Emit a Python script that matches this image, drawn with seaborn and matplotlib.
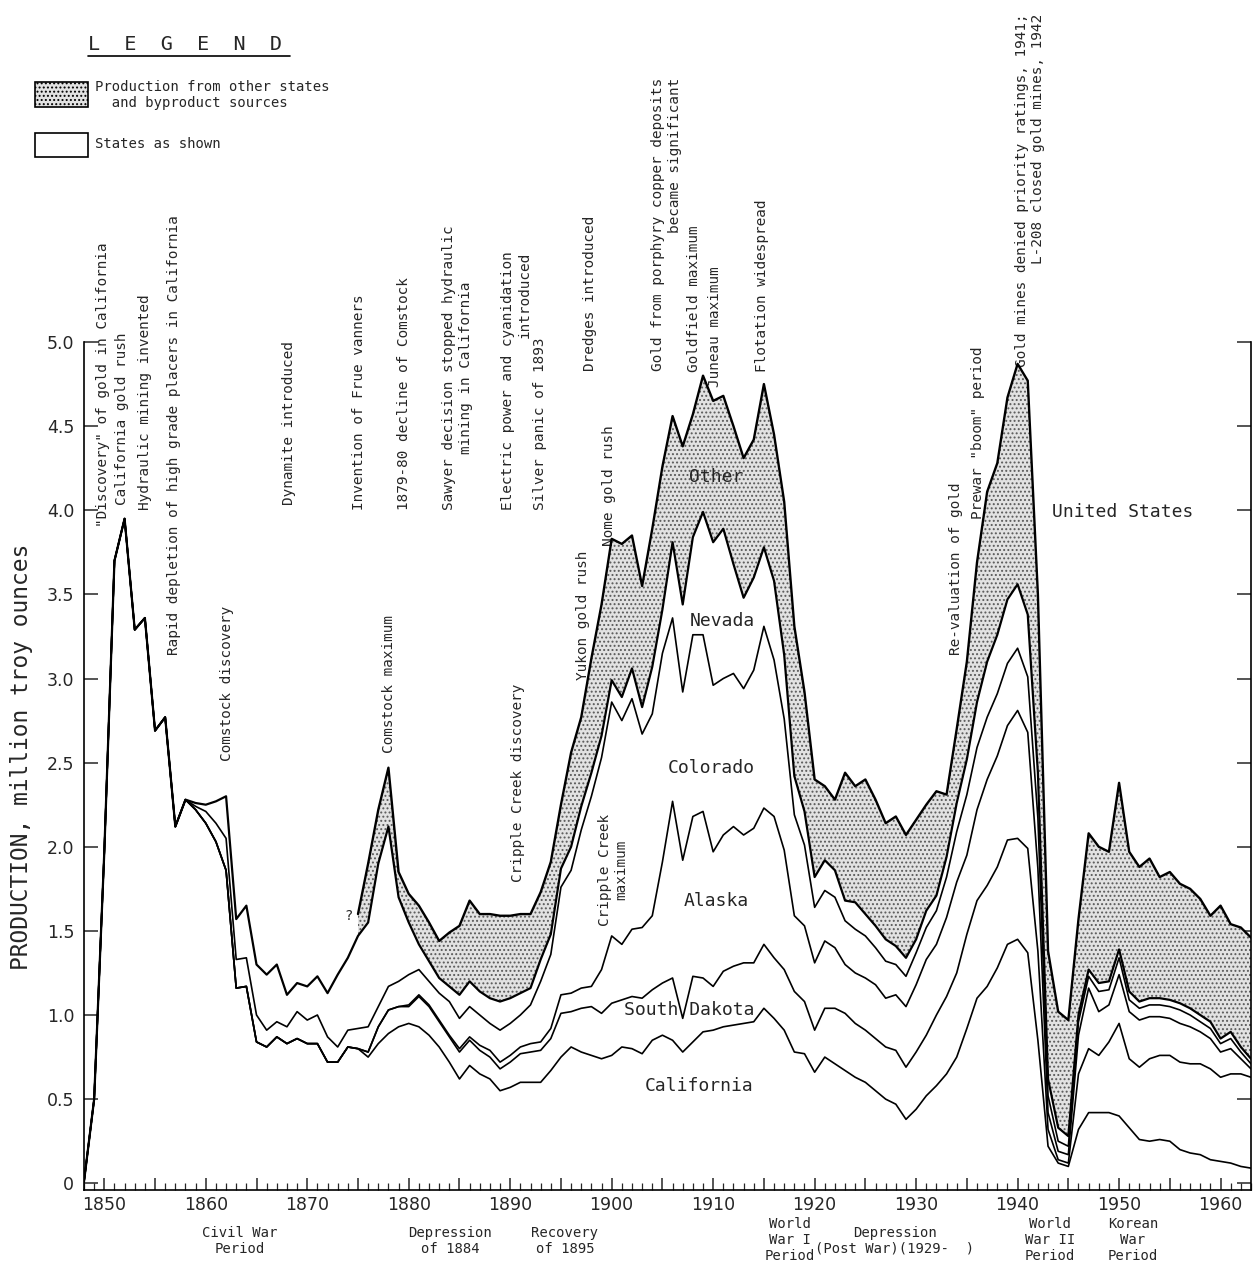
import numpy as np
import pandas as pd
import matplotlib
matplotlib.use('Agg')
import matplotlib.pyplot as plt
import seaborn as sns
from matplotlib.patches import Rectangle
from matplotlib.lines import Line2D
from matplotlib.ticker import MultipleLocator, FuncFormatter

# ------------------------------------------------------------
# Gold production, million troy ounces, 1848-1963
# ------------------------------------------------------------
years = np.arange(1848, 1964)

california = [
    0.01, 0.50,
    1.97, 3.70, 3.95, 3.29, 3.36, 2.69, 2.77, 2.12, 2.28, 2.22,
    2.14, 2.03, 1.86, 1.16, 1.17, 0.84, 0.81, 0.87, 0.83, 0.86,
    0.83, 0.83, 0.72, 0.72, 0.81, 0.80, 0.75, 0.83, 0.89, 0.93,
    0.95, 0.93, 0.88, 0.81, 0.72, 0.62, 0.70, 0.65, 0.62, 0.55,
    0.57, 0.60, 0.60, 0.60, 0.67, 0.75, 0.81, 0.78, 0.76, 0.74,
    0.76, 0.81, 0.80, 0.77, 0.85, 0.88, 0.85, 0.78, 0.84, 0.90,
    0.91, 0.93, 0.94, 0.95, 0.96, 1.04, 0.98, 0.91, 0.78, 0.77,
    0.66, 0.75, 0.71, 0.67, 0.63, 0.60, 0.55, 0.50, 0.47, 0.38,
    0.44, 0.52, 0.58, 0.65, 0.75, 0.92, 1.10, 1.17, 1.28, 1.42,
    1.45, 1.37, 0.85, 0.22, 0.12, 0.10, 0.32, 0.42, 0.42, 0.42,
    0.40, 0.33, 0.26, 0.25, 0.26, 0.25, 0.20, 0.18, 0.17, 0.14,
    0.13, 0.12, 0.10, 0.09,
]

south_dakota = [0.0] * 28 + [
    0.03, 0.10, 0.14, 0.12,
    0.10, 0.18, 0.17, 0.15, 0.15, 0.16, 0.15, 0.14, 0.13, 0.13,
    0.15, 0.17, 0.18, 0.19, 0.19, 0.26, 0.21, 0.26, 0.29, 0.27,
    0.31, 0.28, 0.31, 0.33, 0.30, 0.31, 0.37, 0.20, 0.39, 0.32,
    0.26, 0.33, 0.35, 0.36, 0.35, 0.38, 0.36, 0.36, 0.36, 0.31,
    0.25, 0.29, 0.33, 0.34, 0.32, 0.31, 0.31, 0.31, 0.32, 0.31,
    0.34, 0.36, 0.42, 0.46, 0.50, 0.56, 0.58, 0.60, 0.60, 0.62,
    0.60, 0.62, 0.53, 0.10, 0.02, 0.02, 0.33, 0.38, 0.34, 0.42,
    0.55, 0.41, 0.43, 0.49, 0.50, 0.51, 0.52, 0.53, 0.54, 0.54,
    0.50, 0.53, 0.55, 0.54,
]

alaska = [0.0] * 32 + [
    0.01, 0.01, 0.01, 0.01, 0.01, 0.02, 0.02, 0.03, 0.04, 0.04,
    0.04, 0.04, 0.05, 0.05, 0.06, 0.11, 0.11, 0.12, 0.12, 0.26,
    0.40, 0.33, 0.40, 0.42, 0.44, 0.72, 1.05, 0.94, 0.95, 0.99,
    0.80, 0.81, 0.83, 0.76, 0.80, 0.81, 0.84, 0.71, 0.45, 0.45,
    0.40, 0.40, 0.36, 0.29, 0.30, 0.31, 0.32, 0.29, 0.33, 0.36,
    0.40, 0.45, 0.42, 0.47, 0.54, 0.47, 0.54, 0.63, 0.66, 0.68,
    0.76, 0.69, 0.49, 0.10, 0.05, 0.05, 0.23, 0.36, 0.26, 0.22,
    0.29, 0.28, 0.28, 0.25, 0.23, 0.22, 0.23, 0.22, 0.19, 0.18,
    0.15, 0.15, 0.09, 0.05,
]

colorado = [0.0] * 11 + [
    0.02,
    0.07, 0.11, 0.19, 0.17, 0.17, 0.16, 0.10, 0.09, 0.10, 0.16,
    0.14, 0.17, 0.15, 0.09, 0.10, 0.12, 0.15, 0.12, 0.14, 0.15,
    0.18, 0.15, 0.14, 0.16, 0.20, 0.18, 0.18, 0.18, 0.16, 0.19,
    0.19, 0.19, 0.23, 0.36, 0.44, 0.64, 0.73, 0.94, 1.13, 1.26,
    1.39, 1.33, 1.37, 1.15, 1.20, 1.24, 1.09, 1.00, 1.08, 1.05,
    0.99, 0.93, 0.91, 0.87, 0.94, 1.08, 0.93, 0.78, 0.60, 0.48,
    0.33, 0.30, 0.30, 0.26, 0.26, 0.25, 0.22, 0.22, 0.18, 0.18,
    0.19, 0.19, 0.20, 0.24, 0.30, 0.36, 0.37, 0.37, 0.37, 0.37,
    0.37, 0.33, 0.30, 0.10, 0.06, 0.05, 0.08, 0.07, 0.12, 0.09,
    0.10, 0.07, 0.07, 0.07, 0.07, 0.07, 0.08, 0.07, 0.06, 0.06,
    0.05, 0.06, 0.04, 0.03,
]

nevada = [0.0] * 11 + [
    0.02,
    0.04, 0.13, 0.25, 0.24, 0.31, 0.30, 0.33, 0.34, 0.19, 0.17,
    0.20, 0.23, 0.26, 0.43, 0.43, 0.55, 0.62, 0.85, 0.95, 0.50,
    0.31, 0.15, 0.12, 0.09, 0.09, 0.14, 0.15, 0.14, 0.15, 0.17,
    0.15, 0.13, 0.10, 0.13, 0.12, 0.11, 0.14, 0.14, 0.14, 0.13,
    0.13, 0.14, 0.18, 0.16, 0.28, 0.26, 0.45, 0.52, 0.58, 0.73,
    0.85, 0.89, 0.65, 0.54, 0.55, 0.47, 0.47, 0.38, 0.23, 0.20,
    0.18, 0.18, 0.16, 0.12, 0.16, 0.13, 0.13, 0.13, 0.11, 0.11,
    0.08, 0.10, 0.09, 0.12, 0.17, 0.21, 0.27, 0.33, 0.35, 0.38,
    0.38, 0.37, 0.27, 0.10, 0.08, 0.06, 0.04, 0.04, 0.05, 0.05,
    0.05, 0.05, 0.04, 0.04, 0.04, 0.04, 0.04, 0.04, 0.04, 0.04,
    0.03, 0.04, 0.03, 0.03,
]

# total incl. other states and byproduct gold, known from 1875 on
united_states = [np.nan] * 27 + [
    1.60, 1.90, 2.22, 2.47, 1.85,
    1.72, 1.65, 1.55, 1.44, 1.49, 1.53, 1.68, 1.60, 1.60, 1.59,
    1.59, 1.60, 1.60, 1.73, 1.91, 2.25, 2.56, 2.77, 3.12, 3.44,
    3.83, 3.80, 3.85, 3.55, 3.89, 4.26, 4.56, 4.38, 4.57, 4.80,
    4.65, 4.68, 4.50, 4.31, 4.42, 4.75, 4.45, 4.05, 3.31, 2.92,
    2.40, 2.36, 2.28, 2.44, 2.36, 2.40, 2.28, 2.14, 2.18, 2.07,
    2.16, 2.25, 2.33, 2.31, 2.70, 3.10, 3.69, 4.11, 4.28, 4.67,
    4.87, 4.77, 3.50, 1.38, 1.02, 0.97, 1.57, 2.08, 2.00, 1.97,
    2.38, 1.97, 1.88, 1.93, 1.82, 1.85, 1.78, 1.75, 1.69, 1.59,
    1.65, 1.54, 1.52, 1.46,
]

# events written up the chart: (text, year, value at foot, line alignment)
events = [
    ('"Discovery" of gold in California', 1849.9, 3.90, 'center'),
    ('California gold rush', 1851.7, 4.03, 'center'),
    ('Hydraulic mining invented', 1854.0, 4.00, 'center'),
    ('Rapid depletion of high grade placers in California', 1856.9, 3.14, 'center'),
    ('Comstock discovery', 1862.1, 2.51, 'center'),
    ('Dynamite introduced', 1868.2, 4.03, 'center'),
    ('Invention of Frue vanners', 1875.1, 4.00, 'center'),
    ('Comstock maximum', 1878.1, 2.56, 'center'),
    ('1879-80 decline of Comstock', 1879.5, 4.00, 'center'),
    ('Sawyer decision stopped hydraulic\nmining in California', 1884.8, 4.00, 'center'),
    ('Electric power and cyanidation\nintroduced', 1890.6, 4.00, 'right'),
    ('Cripple Creek discovery', 1890.8, 1.79, 'center'),
    ('Silver panic of 1893', 1892.9, 4.00, 'center'),
    ('Yukon gold rush', 1897.2, 2.99, 'center'),
    ('Dredges introduced', 1897.9, 4.83, 'center'),
    ('Nome gold rush', 1899.7, 3.79, 'center'),
    ('Cripple Creek\nmaximum', 1900.1, 1.53, 'center'),
    ('Gold from porphyry copper deposits\nbecame significant', 1905.4, 4.83, 'right'),
    ('Goldfield maximum', 1908.1, 4.82, 'center'),
    ('Juneau maximum', 1910.2, 4.73, 'center'),
    ('Flotation widespread', 1914.8, 4.82, 'center'),
    ('Re-valuation of gold', 1933.9, 3.14, 'center'),
    ('Prewar "boom" period', 1936.1, 3.95, 'center'),
    ('Gold mines denied priority ratings, 1941;\nL-208 closed gold mines, 1942', 1941.2, 4.85, 'right'),
]

# band names written inside the chart: (text, year, value)
band_labels = [
    ('United States', 1950.4, 3.99),
    ('Other', 1910.3, 4.20),
    ('Nevada', 1910.9, 3.34),
    ('Colorado', 1909.8, 2.47),
    ('Alaska', 1910.3, 1.68),
    ('South Dakota', 1907.6, 1.03),
    ('California', 1908.6, 0.58),
]

# periods under the year axis: (text, x px, y px)
periods = [
    ('Civil War\nPeriod', 240, 1241),
    ('Depression\nof 1884', 450, 1241),
    ('Recovery\nof 1895', 565, 1241),
    ('World\nWar I\nPeriod', 790, 1240),
    ('Depression\n(Post War)(1929-  )', 895, 1241),
    ('World\nWar II\nPeriod', 1050, 1240),
    ('Korean\nWar\nPeriod', 1133, 1240),
]

# ─────────────────────────────────────────────────────────────
# cumulative band tops
# ─────────────────────────────────────────────────────────────
df = pd.DataFrame({'year': years, 'california': california,
                   'south_dakota': south_dakota, 'alaska': alaska,
                   'colorado': colorado, 'nevada': nevada,
                   'united_states': united_states})
df['california_top'] = df['california']
df['south_dakota_top'] = df['california_top'] + df['south_dakota']
df['alaska_top'] = df['south_dakota_top'] + df['alaska']
df['colorado_top'] = df['alaska_top'] + df['colorado']
df['nevada_top'] = df['colorado_top'] + df['nevada']

sns.set_style('ticks')
plt.rcParams['font.family'] = ['DejaVu Sans']
plt.rcParams['hatch.linewidth'] = 0.9
MONO = ['DejaVu Sans Mono', 'DejaVu Sans']

W, H = 1255, 1268
fig = plt.figure(figsize=(W / 100, H / 100), dpi=100)
ax = fig.add_axes([84 / W, 1 - 1190 / H, (1251 - 84) / W, (1190 - 342) / H])

# stippled "other" band
oth = df.dropna(subset=['united_states'])
ax.fill_between(oth['year'], oth['nevada_top'], oth['united_states'],
                facecolor='#e2e2e2', edgecolor='#5a5a5a', hatch='....',
                linewidth=0, zorder=1)

for col, lw in [('california_top', 1.2), ('south_dakota_top', 1.2),
                ('alaska_top', 1.2), ('colorado_top', 1.2),
                ('nevada_top', 1.6)]:
    sns.lineplot(data=df, x='year', y=col, color='black', linewidth=lw,
                 estimator=None, ax=ax, zorder=3)
sns.lineplot(data=oth, x='year', y='united_states', color='black',
             linewidth=1.7, estimator=None, ax=ax, zorder=4)

ax.set_xlim(1848, 1963)
ax.set_ylim(-0.04, 5.0)
ax.set_xlabel('')
ax.set_ylabel('')

ax.xaxis.set_major_locator(MultipleLocator(5))
ax.xaxis.set_minor_locator(MultipleLocator(1))
ax.xaxis.set_major_formatter(FuncFormatter(
    lambda v, p: f'{int(round(v))}' if int(round(v)) % 10 == 0 else ''))
ax.yaxis.set_major_locator(MultipleLocator(0.5))
ax.yaxis.set_major_formatter(FuncFormatter(
    lambda v, p: '0' if abs(v) < 1e-9 else f'{v:.1f}'))

ax.tick_params(axis='x', which='major', direction='in', length=9,
               width=1.1, labelsize=12.5, pad=4)
ax.tick_params(axis='x', which='minor', direction='in', length=5, width=0.9)
ax.tick_params(axis='y', which='major', direction='in', length=10,
               width=1.1, labelsize=12.5, pad=7, left=True, right=True)

ax.spines['top'].set_visible(False)
for s in ['left', 'right', 'bottom']:
    ax.spines[s].set_linewidth(1.2)
    ax.spines[s].set_color('black')

# annotations
for txt, yr, val, align in events:
    ax.text(yr, val, txt, rotation=90, ha='center', va='bottom',
            fontsize=10.4, family=MONO, multialignment=align,
            linespacing=1.2)

for txt, yr, val in band_labels:
    ax.text(yr, val, txt, ha='center', va='center', fontsize=13, family=MONO)

ax.text(1874.1, 1.59, '?', ha='center', va='center', fontsize=10, family=MONO)

# period labels under the axis
for txt, px, py in periods:
    fig.text(px / W, 1 - py / H, txt, ha='center', va='center',
             fontsize=10, family=MONO, linespacing=1.18)

fig.text(22 / W, 1 - 757 / H, 'PRODUCTION, million troy ounces',
         rotation=90, ha='center', va='center', fontsize=16.5, family=MONO)

# legend block, top left
fig.text(88 / W, 1 - 45 / H, 'L  E  G  E  N  D', ha='left', va='center',
         fontsize=14.5, family=MONO)
fig.add_artist(Line2D([88 / W, 290 / W], [1 - 56 / H, 1 - 56 / H],
                      color='black', linewidth=1.2))
fig.add_artist(Rectangle((35 / W, 1 - 107 / H), 53 / W, 25 / H,
                         facecolor='#e2e2e2', edgecolor='black',
                         hatch='....', linewidth=1.2))
fig.add_artist(Rectangle((35 / W, 1 - 157 / H), 53 / W, 24 / H,
                         facecolor='white', edgecolor='black', linewidth=1.2))
fig.text(95 / W, 1 - 95 / H,
         'Production from other states\n  and byproduct sources',
         ha='left', va='center', fontsize=10, family=MONO, linespacing=1.2)
fig.text(95 / W, 1 - 144 / H, 'States as shown', ha='left', va='center',
         fontsize=10, family=MONO)

plt.savefig('out.png', dpi=100)
